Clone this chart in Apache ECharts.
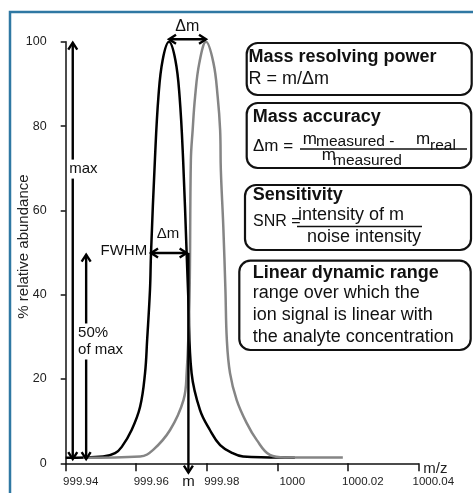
<!DOCTYPE html>
<html>
<head>
<meta charset="UTF-8" />
<title>Mass spectrometry figures of merit</title>
<script src="https://cdn.jsdelivr.net/npm/echarts@6/dist/echarts.min.js"></script>
<style>
  html, body { margin: 0; padding: 0; background: #fff; }
  #main { width: 473px; height: 493px; }
</style>
</head>
<body>
<div id="main"></div>
<script>
const font = 'Liberation Sans, Arial, Helvetica, sans-serif'

// measured peak (black)
const blackMz = [999.94, 999.9506, 999.954, 999.9559, 999.9587, 999.9611, 999.9625, 999.9631, 999.9639, 999.9642,
  999.9653, 999.9663, 999.9675, 999.9693, 999.9711, 999.9723, 999.9733, 999.9743, 999.9748, 999.9757,
  999.9781, 999.9809, 999.9838, 999.9874, 999.9903, 999.9979, 1000.005]
const blackAbund = [1.3, 1.6, 2.4, 3.9, 7.9, 13.4, 21.4, 29.3, 41.1, 49.9,
  72, 87, 95.7, 100, 95.7, 87, 72, 49.9, 38.7, 21.4,
  12.6, 7.9, 4.3, 2.4, 1.6, 1.4, 1.3]

// reference peak (grey)
const grayMz = [999.945, 999.9611, 999.9648, 999.9696, 999.9734, 999.9743, 999.9751, 999.9755, 999.976, 999.9767,
  999.9779, 999.9798, 999.9819, 999.9831, 999.9838, 999.984, 999.9847, 999.9853, 999.9857, 999.9866,
  999.9885, 999.9913, 999.9942, 999.9979, 1000.0022, 1000.0186]
const grayAbund = [1.3, 1.6, 3.2, 7.9, 15, 21.4, 38.7, 72, 79, 87,
  95, 100, 95, 87, 79, 69.6, 56.1, 41.1, 29.3, 21.4,
  15, 9.6, 5.5, 2, 1.4, 1.4]

const xTicks = [999.94, 999.96, 999.98, 1000, 1000.02, 1000.04]
const yTicks = [0, 20, 40, 60, 80, 100]

// annotation arrows in data coordinates, heads: 2 = both ends, 1 = end only
const arrows = [
  { from: [999.9693, 100.6], to: [999.9798, 100.6], heads: 2 },
  { from: [999.9642, 49.9], to: [999.9743, 49.9], heads: 2 },
  { from: [999.9748, 49.9], to: [999.9748, -2.2], heads: 1 },
  { from: [999.942, 1.0], to: [999.942, 99.8], heads: 2 },
  { from: [999.9458, 1.0], to: [999.9458, 49.5], heads: 2 }
]

const zip = (xs, ys) => xs.map((x, i) => [x, ys[i]])

const chart = echarts.init(document.getElementById('main'))

chart.setOption({
  animation: false,
  backgroundColor: '#fff',
  textStyle: { fontFamily: font },
  grid: { left: 65.7, right: 54.7, top: 41.8, bottom: 29.7, containLabel: false, outerBoundsMode: 'none' },
  xAxis: {
    type: 'value',
    min: xTicks[0],
    max: xTicks[xTicks.length - 1],
    interval: 0.02,
    axisLine: { lineStyle: { color: '#111', width: 1.5 } },
    axisTick: { length: 8, lineStyle: { color: '#111', width: 1.5 } },
    axisLabel: {
      fontSize: 11.5, color: '#222', margin: 13, padding: [0, 0, 0, 30],
      formatter: v => String(+v.toFixed(2))
    },
    splitLine: { show: false }
  },
  yAxis: {
    type: 'value',
    min: yTicks[0],
    max: yTicks[yTicks.length - 1],
    interval: 20,
    name: '% relative abundance',
    nameLocation: 'middle',
    nameGap: 34,
    nameMoveOverlap: false,
    nameTextStyle: { fontSize: 15, color: '#222', padding: [0, 0, 0, 12] },
    axisLine: { show: true, lineStyle: { color: '#111', width: 1.5 } },
    axisTick: { show: true, length: 5, lineStyle: { color: '#111', width: 1.5 } },
    axisLabel: { fontSize: 12.5, color: '#222', margin: 19 },
    splitLine: { show: false }
  },
  series: [
    {
      type: 'line', data: zip(blackMz, blackAbund), showSymbol: false,
      smooth: 0.4, z: 3,
      lineStyle: { color: '#000', width: 2.5 }
    },
    {
      type: 'line', data: zip(grayMz, grayAbund), showSymbol: false,
      smooth: 0.4, z: 4,
      lineStyle: { color: '#858585', width: 2.5 }
    }
  ]
})

const px = p => chart.convertToPixel({ gridIndex: 0 }, p)

function arrowGraphics(a) {
  const p1 = px(a.from), p2 = px(a.to)
  const dx = p2[0] - p1[0], dy = p2[1] - p1[1]
  const len = Math.hypot(dx, dy)
  const ux = dx / len, uy = dy / len, nx = -uy, ny = ux
  const L = 7, W = 4.5
  const head = (tip, dirx, diry) => [
    [tip[0] - dirx * L + nx * W, tip[1] - diry * L + ny * W],
    tip,
    [tip[0] - dirx * L - nx * W, tip[1] - diry * L - ny * W]
  ]
  const style = { stroke: '#000', lineWidth: 2.4, fill: null, lineJoin: 'miter' }
  const out = [{ type: 'polyline', z: 50, shape: { points: [p1, p2] }, style }]
  out.push({ type: 'polyline', z: 50, shape: { points: head(p2, ux, uy) }, style })
  if (a.heads === 2) out.push({ type: 'polyline', z: 50, shape: { points: head(p1, -ux, -uy) }, style })
  return out
}

function dataText(text, p, opts) {
  const q = px(p)
  return {
    type: 'text', z: 60, x: q[0], y: q[1],
    style: Object.assign({ text, font: '15px ' + font, fill: '#111', align: 'center', verticalAlign: 'middle' }, opts || {})
  }
}

function pixText(text, x, y, opts) {
  return {
    type: 'text', z: 60, x, y,
    style: Object.assign({ text, font: '18px ' + font, fill: '#111', align: 'left', verticalAlign: 'middle' }, opts || {})
  }
}

function box(x, y, w, h) {
  return {
    type: 'rect', z: 40, shape: { x, y, width: w, height: h, r: 11 },
    style: { fill: '#fff', stroke: '#111', lineWidth: 2.2 }
  }
}

const bold = { font: 'bold 18px ' + font }
const small = { font: '15.5px ' + font }
const big = { font: '17px ' + font }

let graphic = [
  { type: 'rect', z: 1, shape: { x: 10, y: 12, width: 470, height: 490 },
    style: { fill: null, stroke: '#2f78a3', lineWidth: 2.5 } }
]
arrows.forEach(a => { graphic = graphic.concat(arrowGraphics(a)) })

const axisEnd = px([xTicks[xTicks.length - 1], 0])

graphic.push(
  dataText('Δm', [999.9745, 103.7], { font: '16px ' + font }),
  dataText('FWHM', [999.9631, 50.3], { align: 'right' }),
  dataText('Δm', [999.969, 54.5], { font: '15px ' + font }),
  dataText('max', [999.941, 69.8], { align: 'left', backgroundColor: '#fff', padding: [2, 0, 2, 0] }),
  dataText('50%\nof max', [999.9435, 28.9], { align: 'left', backgroundColor: '#fff', lineHeight: 17, padding: [1, 0, 1, 0] }),
  dataText('m', [999.9748, -4.4], { font: '15px ' + font }),
  pixText('m/z', axisEnd[0] + 5, axisEnd[1] + 6, { font: '15px ' + font, fill: '#222' }),

  box(246.7, 43, 225, 52),
  pixText('Mass resolving power', 248.5, 57, bold),
  pixText('R = m/Δm', 248.5, 79),

  box(246.7, 103, 224.5, 65),
  pixText('Mass accuracy', 252.7, 117, bold),
  pixText('Δm =', 253, 146.7, big),
  pixText('m', 302.7, 139, big),
  pixText('measured - ', 316, 142, small),
  pixText('m', 416, 139, big),
  pixText('real', 430, 146, small),
  { type: 'line', z: 60, shape: { x1: 300, y1: 149, x2: 467, y2: 149 }, style: { stroke: '#111', lineWidth: 1.5 } },
  pixText('m', 321.7, 155, big),
  pixText('measured', 333, 161, small),

  box(245, 185, 226, 65),
  pixText('Sensitivity', 252.7, 195, bold),
  pixText('SNR =', 253, 221.7, { font: '16px ' + font }),
  pixText('intensity of m', 298, 215),
  { type: 'line', z: 60, shape: { x1: 297, y1: 226.5, x2: 422, y2: 226.5 }, style: { stroke: '#111', lineWidth: 1.5 } },
  pixText('noise intensity', 307, 237.5),

  box(239.3, 260.7, 231.4, 89.3),
  pixText('Linear dynamic range', 252.7, 273.3, bold),
  pixText('range over which the', 252.7, 293.5),
  pixText('ion signal is linear with', 252.7, 315),
  pixText('the analyte concentration', 252.7, 336.7)
)

chart.setOption({ graphic })
</script>
</body>
</html>
